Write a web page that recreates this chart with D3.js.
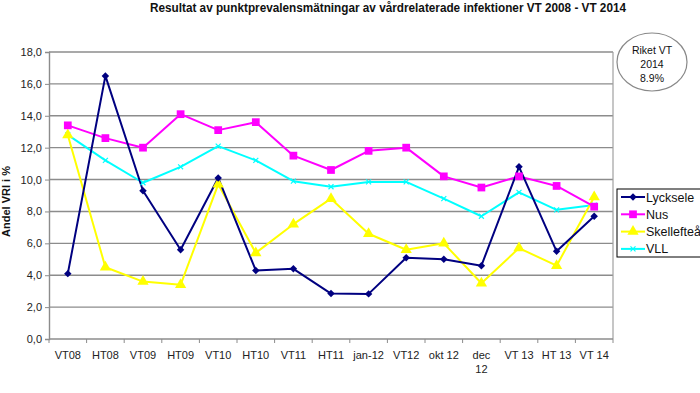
<!DOCTYPE html>
<html>
<head>
<meta charset="utf-8">
<script src="https://cdn.jsdelivr.net/npm/d3@7"></script>
<style>
  body { margin: 0; background: #fff; }
  svg { font-family: "Liberation Sans", Arial, sans-serif; }
</style>
</head>
<body>
<div id="chart"></div>
<script>
"use strict";
const categories = ["VT08", "HT08", "VT09", "HT09", "VT10", "HT10", "VT11", "HT11", "jan-12", "VT12", "okt 12", "dec 12", "VT 13", "HT 13", "VT 14"];
const lycksele = [4.1, 16.5, 9.3, 5.6, 10.1, 4.3, 4.4, 2.85, 2.83, 5.1, 5.0, 4.6, 10.8, 5.5, 7.7];
const nus = [13.4, 12.6, 12.0, 14.1, 13.1, 13.6, 11.5, 10.6, 11.8, 12.0, 10.2, 9.5, 10.2, 9.6, 8.3];
const skelleftea = [12.8, 4.5, 3.6, 3.4, 9.7, 5.4, 7.2, 8.8, 6.6, 5.6, 6.0, 3.5, 5.7, 4.6, 8.9];
const vll = [12.8, 11.2, 9.8, 10.8, 12.1, 11.2, 9.9, 9.55, 9.85, 9.85, 8.8, 7.7, 9.2, 8.1, 8.4];
const seriesNames = ["Lycksele", "Nus", "Skellefteå", "VLL"];
const yTicks = [0, 2, 4, 6, 8, 10, 12, 14, 16, 18];

// diamond drawn as a square turned 45 degrees
const wideDiamond = {
    draw(context, size) {
        const r = Math.sqrt(size / 2);
        context.moveTo(0, -r);
        context.lineTo(r, 0);
        context.lineTo(0, r);
        context.lineTo(-r, 0);
        context.closePath();
    }
};

const series = [
  {name: seriesNames[0], values: lycksele, color: "#000080", symbol: wideDiamond, size: 28},
  {name: seriesNames[1], values: nus, color: "#FF00FF", symbol: d3.symbolSquare, size: 60},
  {name: seriesNames[2], values: skelleftea, color: "#FFFF00", symbol: d3.symbolTriangle, size: 55},
  {name: seriesNames[3], values: vll, color: "#00FFFF", symbol: d3.symbolX, size: 18}
];

const width = 700, height = 393;
const marginLeft = 49, marginRight = 87, marginTop = 52, marginBottom = 54;

const svg = d3.select("#chart").append("svg")
    .attr("width", width)
    .attr("height", height)
    .attr("viewBox", [0, 0, width, height]);

const x = d3.scaleBand()
    .domain(categories)
    .range([marginLeft, width - marginRight]);

const y = d3.scaleLinear()
    .domain([0, 18])
    .range([height - marginBottom, marginTop]);

// title
svg.append("text")
    .attr("x", 388)
    .attr("y", 12)
    .attr("text-anchor", "middle")
    .style("font-size", "12px")
    .style("font-weight", "bold")
    .attr("fill", "#111")
    .attr("textLength", 476)
    .attr("lengthAdjust", "spacingAndGlyphs")
    .text("Resultat av punktprevalensmätningar av vårdrelaterade infektioner VT 2008 - VT 2014");

// gridlines
svg.append("g")
    .selectAll("line")
    .data(yTicks.filter(d => d > 0))
    .join("line")
    .attr("x1", marginLeft)
    .attr("x2", width - marginRight)
    .attr("y1", d => y(d))
    .attr("y2", d => y(d))
    .attr("stroke", "#8c8c8c")
    .attr("stroke-width", 1.4);

// right border of the plot area
svg.append("line")
    .attr("x1", width - marginRight).attr("x2", width - marginRight)
    .attr("y1", y(18)).attr("y2", y(0))
    .attr("stroke", "#a0a0a0")
    .attr("stroke-width", 1.2);

// y axis
const yAxis = svg.append("g")
    .attr("transform", `translate(${marginLeft},0)`)
    .call(d3.axisLeft(y).tickValues(yTicks).tickSize(4).tickFormat(d => d3.format(".1f")(d).replace(".", ",")));
yAxis.select(".domain").attr("stroke", "#8c8c8c").attr("stroke-width", 1.4);
yAxis.selectAll(".tick line").attr("stroke", "#8c8c8c");
yAxis.selectAll(".tick text")
    .attr("x", -7)
    .style("font-size", "11px")
    .style("font-family", "Liberation Sans, Arial, sans-serif")
    .attr("fill", "#222");

// x axis with ticks at category boundaries
const xAxis = svg.append("g")
    .attr("transform", `translate(0,${y(0)})`);
xAxis.append("line")
    .attr("x1", marginLeft).attr("x2", width - marginRight)
    .attr("stroke", "#8c8c8c").attr("stroke-width", 1.4);
xAxis.selectAll(".bound")
    .data(categories.concat([null]))
    .join("line")
    .attr("class", "bound")
    .attr("x1", (d, i) => marginLeft + i * x.step())
    .attr("x2", (d, i) => marginLeft + i * x.step())
    .attr("y1", 0).attr("y2", 4)
    .attr("stroke", "#8c8c8c");
xAxis.selectAll(".lab")
    .data(categories)
    .join("text")
    .attr("class", "lab")
    .attr("text-anchor", "middle")
    .attr("x", d => x(d) + x.bandwidth() / 2)
    .attr("y", 20)
    .style("font-size", "11px")
    .attr("fill", "#222")
    .each(function(d) {
        const parts = d === "dec 12" ? ["dec", "12"] : [d];
        d3.select(this).selectAll("tspan")
            .data(parts)
            .join("tspan")
            .attr("x", x(d) + x.bandwidth() / 2)
            .attr("dy", (p, i) => i === 0 ? 0 : 14)
            .text(p => p);
    });

// y axis title
svg.append("text")
    .attr("transform", `translate(10,${(y(0) + y(18)) / 2 + 6}) rotate(-90)`)
    .attr("text-anchor", "middle")
    .style("font-size", "11px")
    .style("font-weight", "bold")
    .attr("fill", "#111")
    .text("Andel VRI i %");

// lines and markers
const line = d3.line()
    .x((d, i) => x(categories[i]) + x.bandwidth() / 2)
    .y(d => y(d));

const drawOrder = [series[3], series[2], series[1], series[0]];
drawOrder.forEach(s => {
    svg.append("path")
        .datum(s.values)
        .attr("fill", "none")
        .attr("stroke", s.color)
        .attr("stroke-width", 2)
        .attr("stroke-linejoin", "round")
        .attr("d", line);
});
drawOrder.forEach(s => {
    svg.append("g")
        .selectAll("path")
        .data(s.values)
        .join("path")
        .attr("transform", (d, i) => `translate(${x(categories[i]) + x.bandwidth() / 2},${y(d)})`)
        .attr("d", d3.symbol().type(s.symbol).size(s.size))
        .attr("fill", s.symbol === d3.symbolX ? "none" : s.color)
        .attr("stroke", s.color)
        .attr("stroke-width", s.symbol === d3.symbolX ? 1.2 : 0);
});

// legend
const legend = svg.append("g").attr("transform", "translate(617,189)");
legend.append("rect")
    .attr("width", 84).attr("height", 68)
    .attr("fill", "#fff")
    .attr("stroke", "#000")
    .attr("stroke-width", 1);
const item = legend.selectAll(".item")
    .data(series)
    .join("g")
    .attr("class", "item")
    .attr("transform", (d, i) => `translate(0,${8 + i * 17.3})`);
item.append("line")
    .attr("x1", 4).attr("x2", 28)
    .attr("stroke", d => d.color)
    .attr("stroke-width", 2);
item.append("path")
    .attr("transform", "translate(16,0)")
    .attr("d", d => d3.symbol().type(d.symbol).size(d.size)())
    .attr("fill", d => d.symbol === d3.symbolX ? "none" : d.color)
    .attr("stroke", d => d.color)
    .attr("stroke-width", d => d.symbol === d3.symbolX ? 1.2 : 0);
item.append("text")
    .attr("x", 29)
    .attr("dy", "0.36em")
    .style("font-size", "12.5px")
    .attr("fill", "#111")
    .text(d => d.name);

// callout ellipse
const callout = svg.append("g").attr("transform", "translate(652,62)");
callout.append("ellipse")
    .attr("rx", 35).attr("ry", 29)
    .attr("fill", "#fff")
    .attr("stroke", "#888")
    .attr("stroke-width", 1.2);
callout.append("text")
    .attr("text-anchor", "middle")
    .style("font-size", "10.5px")
    .attr("fill", "#111")
    .selectAll("tspan")
    .data(["Riket VT", "2014", "8.9%"])
    .join("tspan")
    .attr("x", 0)
    .attr("y", (d, i) => -8 + i * 14)
    .text(d => d);
</script>
</body>
</html>
